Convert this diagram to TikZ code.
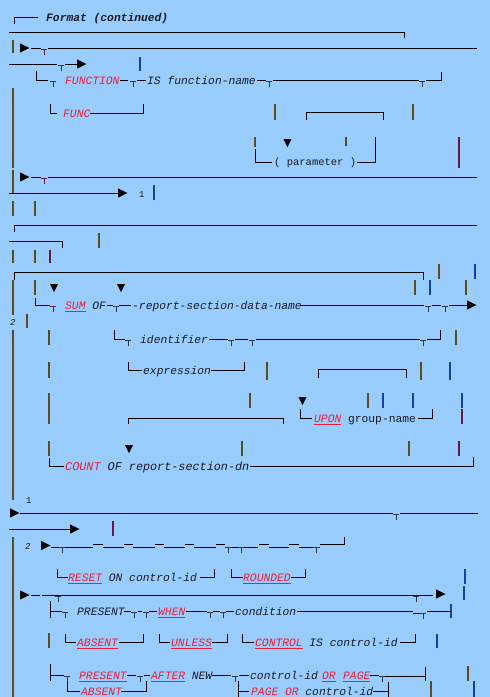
\documentclass[tikz,border=0pt]{standalone}
\usepackage{fontspec}
\setmonofont{Liberation Mono}
\definecolor{bg}{RGB}{153,204,255}
\definecolor{kwred}{RGB}{240,30,50}
\definecolor{brn}{RGB}{95,75,30}
\definecolor{blu}{RGB}{25,60,175}
\definecolor{dred}{RGB}{105,25,65}
\definecolor{tcol}{RGB}{45,55,75}
\definecolor{txtc}{RGB}{25,25,35}
\newcommand\kwu[1]{{\color{kwred}\setbox0=\hbox{#1}\rlap{\raisebox{-2.8pt}{\rule{\wd0}{1.1pt}}}\box0}}
\newcommand\kwn[1]{{\color{kwred}#1}}
\newcommand\tmk[3][tcol]{\draw[line width=1pt,#1] ({#2-2.8},{#3+1.3})--({#2+2.8},{#3+1.3}) (#2,{#3+1.3})--(#2,{#3+6.5});}
\newcommand\arrR[2]{\fill[black] (#1,{#2-4.7})--({#1+9.5},#2)--(#1,{#2+4.7})--cycle;}
\newcommand\arrD[2]{\fill[black] ({#1-4},#2)--({#1+4},#2)--(#1,{#2+8})--cycle;}
\begin{document}
\begin{tikzpicture}[x=1pt,y=-1pt,
  ln/.style={line width=1pt,black},
  bar/.style={line width=1.8pt},
  txt/.style={anchor=base west,inner sep=0pt,font=\fontsize{11.3}{13}\selectfont\ttfamily\itshape,text=txtc},
  small/.style={anchor=base west,inner sep=0pt,font=\fontsize{9}{10}\selectfont\ttfamily,text=txtc}]
\fill[bg] (0,0) rectangle (490,697);
\useasboundingbox (0,0) rectangle (490,697);
% vertical bars
\foreach \x/\a/\b/\c in {13/40/53/brn,140/57/71/blu,13/88/168/brn,275/104/120/brn,413/104/120/brn,
  255/137/147/brn,346/137/146/brn,459/137/168/dred,13/170/193/brn,154/185/200/blu,13/201/216/brn,
  35/201/216/brn,99/233/248/brn,13/250/263/brn,35/250/263/brn,50/250/263/dred,439/264/279/brn,
  475/264/279/blu,415/280/295/brn,430/280/295/blu,466/280/295/brn,13/280/315/brn,35/280/295/brn,
  27/314/328/brn,13/330/500/brn,49/330/345/brn,456/330/345/brn,49/362/378/brn,267/362/380/brn,
  421/362/380/brn,450/362/380/blu,49/393/424/brn,250/393/408/brn,368/393/408/brn,383/393/408/blu,
  413/393/408/blu,462/393/408/blu,462/409/424/dred,49/441/456/brn,242/441/456/brn,409/441/456/brn,
  459/441/456/dred,113/521/536/dred,13/537/697/brn,465/569/584/blu,464/586/600/blu,451/604/618/blu,
  49/633/648/brn,437/634/648/blu,468/666/681/brn,431/681/697/brn,474/681/697/blu}
  \draw[bar,draw=\c] (\x,\a)--(\x,\b);
% header
\draw[ln] (14,24)--(14,17.3)--(38,17.3);
\node[txt,font=\fontsize{11.3}{13}\selectfont\ttfamily\bfseries\itshape] (fmt) at (46,21) {Format (continued)};
\draw[ln] (9,32)--(404,32)--(404,38);
% row A
\arrR{20}{48}
\draw[ln] (31,48)--(41,48) (48,48)--(477,48);
\tmk[dred]{44}{48}
% row B
\draw[ln] (9,64)--(57,64) (65,64)--(77,64);
\tmk{61}{64}
\arrR{77}{64}
% row C
\draw[ln] (36,71)--(36,80.5)--(48,80.5);
\tmk{53}{80.5}
\node[txt] (fn) at (65,84.5) {\kwn{FUNCTION}};
\draw[ln] (120,80.5)--(128,80.5) (137,80.5)--(146,80.5);
\tmk{133}{80.5}
\node[txt] (isfn) at (147,84.5) {IS function-name};
\draw[ln] (257,80.5)--(266,80.5) (273,80.5)--(419,80.5) (426,80.5)--(441,80.5)--(441,72);
\tmk{269}{80.5}\tmk{422}{80.5}
% row D
\draw[ln] (50,104)--(50,113)--(57,113);
\node[txt] (func) at (63,117) {\kwn{FUNC}};
\draw[ln] (90,113)--(143,113)--(143,104);
\draw[ln] (306,120)--(306,112)--(383,112)--(383,120);
% row E
\draw[ln] (255,149)--(255,162)--(272,162);
\node[txt,font=\fontsize{10.5}{12}\selectfont\ttfamily] (par) at (274,165.5) {( parameter )};
\draw[ln] (357,162)--(375,162)--(375,137);
\arrD{287.5}{139}
% row F
\arrR{20}{177}
\draw[ln] (31,177)--(41,177) (48,177)--(477,177);
\tmk[dred]{44}{177}
% row G
\draw[ln] (9,193)--(118,193);
\arrR{118}{193}
\node[small] (one) at (139,197) {1};
% rows H, I
\draw[ln] (14,232)--(14,225)--(477,225);
\draw[ln] (9,241)--(62,241)--(62,248);
% row J
\draw[ln] (14,280)--(14,272)--(423,272)--(423,280);
\arrD{54}{284}
\arrD{121}{284}
% row K
\draw[ln] (35,298)--(35,305)--(50,305);
\tmk[dred]{53}{305}
\node[txt] (sum) at (65,309) {\kwu{SUM} OF};
\draw[ln] (107,305)--(113,305) (119,305)--(131,305);
\tmk{116}{305}
\node[txt] (rsdn) at (132,309) {-report-section-data-name};
\draw[ln] (300,305)--(424,305) (432,305)--(441,305) (449,305)--(467,305);
\tmk{428}{305}\tmk{445}{305}
\arrR{467}{305}
\node[small,font=\fontsize{9}{10}\selectfont\ttfamily\itshape] (two) at (10,325) {2};
% row L
\draw[ln] (114,330)--(114,339)--(125,339);
\tmk{128}{339}
\node[txt] (ident) at (140,343) {identifier};
\draw[ln] (209,339)--(228,339) (235,339)--(248,339) (256,339)--(420,339) (427,339)--(440,339)--(440,330);
\tmk{231}{339}\tmk{252}{339}\tmk{423}{339}
% row M
\draw[ln] (128,362)--(128,370.5)--(142,370.5);
\node[txt] (expr) at (143,374.5) {expression};
\draw[ln] (211,370.5)--(244,370.5)--(244,362);
\draw[ln] (318,378)--(318,369)--(406,369)--(406,378);
% row N
\arrD{302.5}{397}
\draw[ln] (300,409)--(300,418)--(312,418);
\node[txt] (upon) at (314,422) {\kwu{UPON} \upshape group-name};
\draw[ln] (418,418)--(432,418)--(432,409);
\draw[ln] (128,424)--(128,418)--(283,418)--(283,424);
% row O
\draw[ln] (49,458)--(49,466)--(64,466);
\node[txt,font=\fontsize{11.8}{13}\selectfont\ttfamily\itshape] (count) at (65,470) {\kwn{COUNT} OF report-section-dn};
\draw[ln] (count.east|-0,466)--(473,466)--(473,457);
\arrD{129}{445}
\node[small] (one2) at (26,503) {1};
% row P
\arrR{10}{513}
\draw[ln] (20,513)--(393,513) (400,513)--(478,513);
\tmk{396}{513}
% row Q
\draw[ln] (9,529)--(70,529);
\arrR{70}{529}
% row R
\node[small,font=\fontsize{9}{10}\selectfont\ttfamily\itshape] (two2) at (25,549) {2};
\arrR{41}{545.5}
\draw[ln] (51,547)--(93,547) (93,544)--(103,544) (103,547)--(124,547) (124,544)--(133,544)
  (133,547)--(155,547) (155,544)--(164,544) (164,547)--(185,547) (185,544)--(194,544)
  (194,547)--(216,547) (216,544)--(225,544) (225,547)--(258,547) (259,544)--(269,544)
  (269,547)--(289,547) (289,544)--(299,544) (299,547)--(320,547) (320,544)--(344,544)--(344,537);
\tmk{62}{546}\tmk{228}{546}\tmk{241}{546}\tmk{316}{546}
% row S
\draw[ln] (57,569)--(57,577)--(68,577);
\node[txt] (reset) at (68,581) {\kwu{RESET} ON control-id};
\draw[ln] (200,577)--(214,577)--(214,569);
\draw[ln] (231,569)--(231,577)--(243,577);
\node[txt] (rounded) at (243,581) {\kwu{ROUNDED}};
\draw[ln] (291,577)--(305,577)--(305,569);
% row T
\arrR{20}{595}
\draw[ln] (31,595)--(40,595) (42,595)--(433,595);
\tmk{58}{595}\tmk{416}{595}
\arrR{436}{594}
% row U
\draw[ln] (50,601)--(50,618) (50,611.5)--(62,611.5);
\tmk{65}{611.5}
\node[txt] (pres1) at (77,615.5) {PRESENT};
\draw[ln] (124,611.5)--(131,611.5) (138,611.5)--(142,611.5) (149,611.5)--(157,611.5);
\tmk{134}{611.5}\tmk{146}{611.5}
\node[txt] (when) at (158,615.5) {\kwu{WHEN}};
\draw[ln] (186,611.5)--(207,611.5) (213,611.5)--(220,611.5) (226,611.5)--(234,611.5);
\tmk{210}{611.5}\tmk{223}{611.5}
\node[txt] (cond) at (235,615.5) {condition};
\draw[ln] (297,611.5)--(413,611.5) (413,613)--(420,613) (427,611.5)--(451,611.5);
\tmk{423}{612.5}
% row V
\draw[ln] (65,634)--(65,642.5)--(76,642.5);
\node[txt] (abs1) at (77,646.5) {\kwu{ABSENT}};
\draw[ln] (119,642.5)--(143,642.5)--(143,634);
\draw[ln] (159,634)--(159,642.5)--(170,642.5);
\node[txt] (unless) at (171,646.5) {\kwu{UNLESS}};
\draw[ln] (212,642.5)--(227,642.5)--(227,634);
\draw[ln] (242,634)--(242,642.5)--(254,642.5);
\node[txt] (ctrl) at (255,646.5) {\kwu{CONTROL} IS control-id};
\draw[ln] (400,642.5)--(415,642.5)--(415,634);
% row W
\draw[ln] (50,664)--(50,681) (50,675)--(64,675);
\tmk{67}{675}
\node[txt] (pres2) at (79,679) {\kwu{PRESENT}};
\draw[ln] (127,675)--(136,675) (144,675)--(150,675);
\tmk{140}{675}
\node[txt] (after) at (151,679) {\kwu{AFTER} NEW};
\draw[ln] (212,675)--(231,675) (239,675)--(249,675);
\tmk{235}{675}
\node[txt] (cid) at (250,679) {control-id};
\node[txt] (or1) at (322,679) {\kwu{OR}};
\node[txt] (page1) at (343,679) {\kwu{PAGE}};
\draw[ln] (370,675)--(379,675) (384,676.5)--(425,676.5);
\tmk{382}{675}
\draw[ln] (425,667)--(425,681);
% row X
\draw[ln] (67,681)--(67,691)--(80,691);
\node[txt] (abs2) at (81,695) {\kwn{ABSENT}};
\draw[ln] (121,691)--(146,691)--(146,681);
\draw[ln] (238,681)--(238,697) (238,691)--(249,691);
\node[txt] (pg) at (251,695) {\kwn{PAGE OR} control-id};
\draw[ln] (373,691)--(388,691);
\draw[ln] (388,682)--(388,697);
\end{tikzpicture}
\end{document}
